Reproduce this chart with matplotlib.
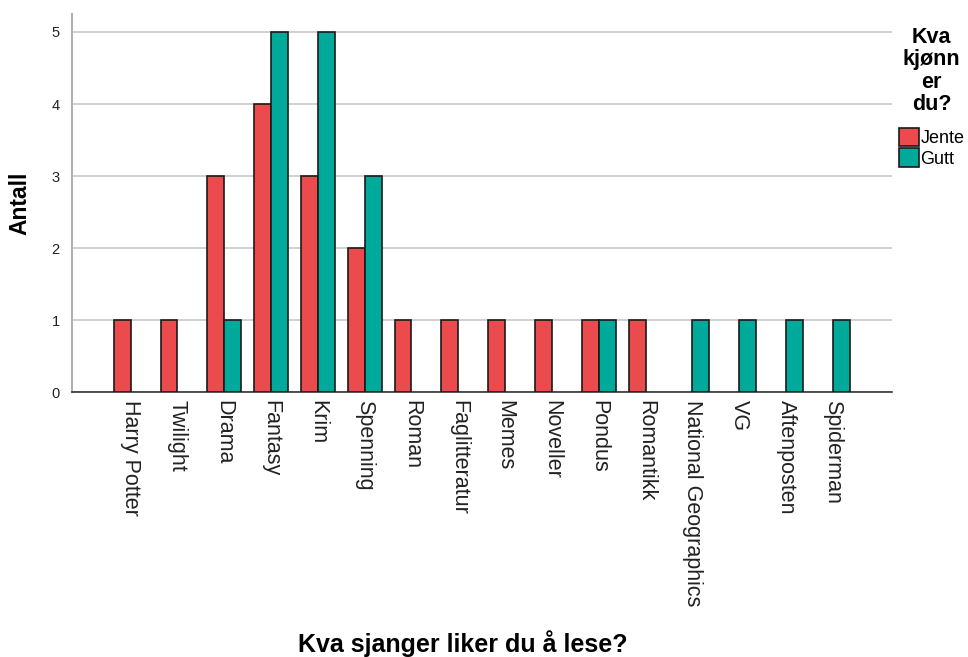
import matplotlib
matplotlib.use("Agg")
import matplotlib.pyplot as plt
import numpy as np

plt.rcParams['font.family'] = ['Liberation Sans', 'DejaVu Sans']

# data
genres = ["Harry Potter", "Twilight", "Drama", "Fantasy", "Krim", "Spenning",
          "Roman", "Faglitteratur", "Memes", "Noveller", "Pondus", "Romantikk",
          "National Geographics", "VG", "Aftenposten", "Spiderman"]
jente = [1, 1, 3, 4, 3, 2, 1, 1, 1, 1, 1, 1, 0, 0, 0, 0]
gutt = [0, 0, 1, 5, 5, 3, 0, 0, 0, 0, 1, 0, 1, 1, 1, 1]

RED = "#EB4B4D"
TEAL = "#00AA9A"

fig = plt.figure(figsize=(9.68, 6.57), dpi=100)
ax = fig.add_axes([0.0744, 0.4033, 0.847, 0.5754])

x = np.arange(len(genres))
w = 0.36
# skip zero counts so no flat edge line is drawn on the axis
for vals, off, col, lab in [(jente, -w / 2, RED, "Jente"), (gutt, w / 2, TEAL, "Gutt")]:
    vals = np.array(vals)
    nz = vals > 0
    ax.bar(x[nz] + off, vals[nz], width=w, color=col, edgecolor="#1a1a1a",
           linewidth=1.2, label=lab, zorder=3)

ax.set_xlim(-1.25, len(genres) - 1 + 1.26)
ax.set_ylim(0, 5.25)
ax.set_yticks(range(6))
ax.yaxis.grid(True, color="#c8c8c8", linewidth=1.2, zorder=0)
ax.set_xticks(x)
ax.set_xticklabels(genres, rotation=270, fontsize=15.5, color="#222222")
ax.tick_params(axis="x", length=0, pad=6)
ax.tick_params(axis="y", length=0, pad=9, labelsize=10.5, labelcolor="#222222")

for s in ["top", "right"]:
    ax.spines[s].set_visible(False)
ax.spines["left"].set_color("#b0b0b0")
ax.spines["left"].set_linewidth(1.5)
ax.spines["bottom"].set_color("#333333")
ax.spines["bottom"].set_linewidth(1.2)

ax.set_ylabel("Antall", fontsize=16.5, fontweight="bold", labelpad=14)
fig.text(0.478, 0.008, "Kva sjanger liker du å lese?", fontsize=18, fontweight="bold", ha="center")

leg = ax.legend(title="Kva\nkjønn\ner\ndu?", loc="upper left", bbox_to_anchor=(0.993, 1.0),
                frameon=False, fontsize=13, handlelength=1.1, handleheight=1.2,
                handletextpad=0.1, borderaxespad=0.3, labelspacing=0.05)
leg.get_title().set_fontweight("bold")
leg.get_title().set_fontsize(15.5)
leg.get_title().set_multialignment("center")
leg.get_title().set_linespacing(1.1)
leg._legend_box.sep = 9

fig.savefig("out.png", dpi=100)
